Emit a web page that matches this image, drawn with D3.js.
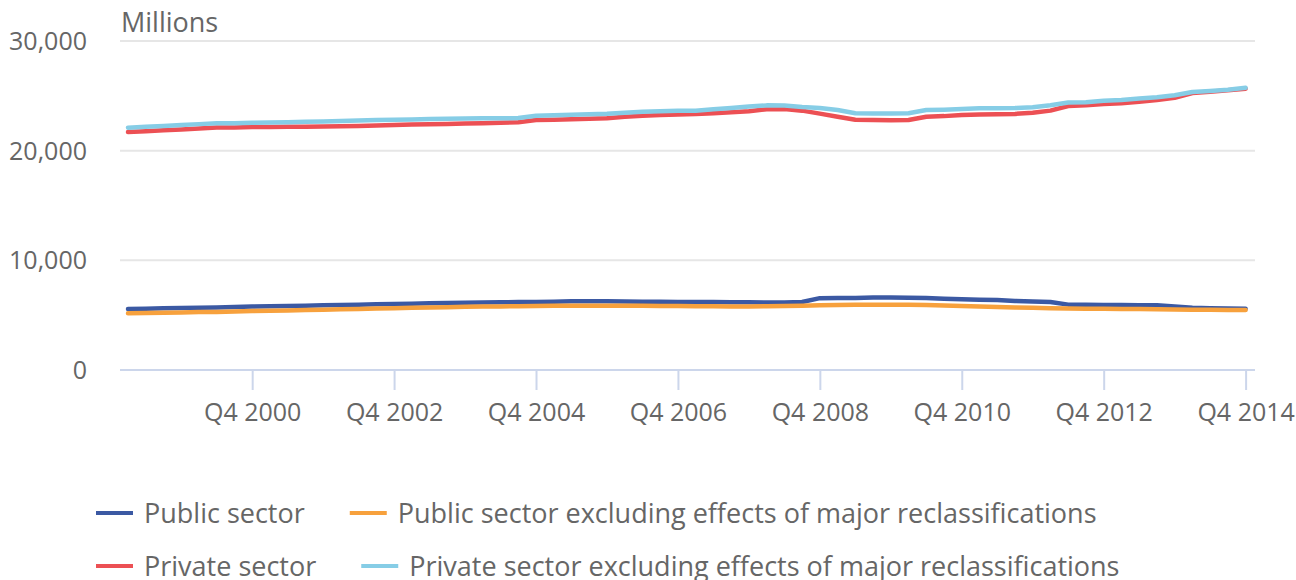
<!DOCTYPE html>
<html>
<head>
<meta charset="utf-8">
<script src="https://cdn.jsdelivr.net/npm/d3@7"></script>
<style>
  html, body { margin: 0; padding: 0; background: #fff; }
  svg { display: block; font-family: "Open Sans", sans-serif; }
</style>
</head>
<body>
<div id="chart"></div>
<script>
// quarters Q1 1999 .. Q4 2014
const quarters = [];
for (let y = 1999; y <= 2014; y++) for (let q = 1; q <= 4; q++) quarters.push("Q" + q + " " + y);

const tickLabels = ["Q4 2000", "Q4 2002", "Q4 2004", "Q4 2006", "Q4 2008", "Q4 2010", "Q4 2012", "Q4 2014"];
const yTicks = [0, 10000, 20000, 30000];

const publicSector = [
  5560, 5590, 5620, 5650, 5680, 5710, 5740, 5780, 5810, 5840, 5870, 5900, 5930, 5960, 5990, 6020,
  6050, 6080, 6110, 6130, 6150, 6170, 6190, 6210, 6230, 6260, 6270, 6260, 6240, 6230, 6220, 6210,
  6200, 6190, 6180, 6170, 6150, 6160, 6200, 6550, 6560, 6570, 6600, 6620, 6590, 6560, 6500, 6450,
  6400, 6380, 6300, 6250, 6200, 5960, 5940, 5930, 5920, 5900, 5900, 5780, 5680, 5630, 5600, 5590
];
const publicExcl = [
  5170, 5200, 5230, 5250, 5280, 5300, 5330, 5380, 5400, 5430, 5460, 5500, 5530, 5560, 5600, 5640,
  5670, 5700, 5730, 5760, 5780, 5800, 5820, 5840, 5850, 5860, 5870, 5860, 5850, 5850, 5840, 5830,
  5820, 5810, 5800, 5800, 5810, 5830, 5870, 5900, 5920, 5940, 5950, 5960, 5960, 5930, 5880, 5830,
  5780, 5750, 5700, 5670, 5640, 5600, 5590, 5580, 5570, 5560, 5540, 5520, 5500, 5490, 5480, 5470
];
const privateSector = [
  21700, 21780, 21860, 21940, 22020, 22120, 22120, 22150, 22160, 22170, 22180, 22200, 22230, 22260, 22300, 22350,
  22380, 22400, 22440, 22480, 22500, 22550, 22600, 22800, 22820, 22860, 22900, 22950, 23100, 23180, 23250, 23290,
  23340, 23420, 23500, 23600, 23780, 23800, 23650, 23380, 23100, 22820, 22800, 22780, 22800, 23100, 23150, 23250,
  23300, 23320, 23350, 23450, 23650, 24070, 24130, 24250, 24320, 24450, 24620, 24830, 25250, 25380, 25500, 25650
];
const privateExcl = [
  22100, 22180, 22260, 22340, 22420, 22490, 22500, 22550, 22570, 22600, 22630, 22660, 22700, 22740, 22800, 22830,
  22850, 22880, 22900, 22930, 22950, 22950, 22980, 23180, 23230, 23270, 23310, 23360, 23450, 23550, 23600, 23630,
  23650, 23780, 23900, 24020, 24130, 24120, 23980, 23900, 23700, 23420, 23400, 23400, 23420, 23700, 23740, 23800,
  23860, 23870, 23880, 23950, 24150, 24400, 24420, 24550, 24620, 24750, 24880, 25050, 25350, 25450, 25550, 25740
];

const seriesNames = [
  "Public sector",
  "Public sector excluding effects of major reclassifications",
  "Private sector",
  "Private sector excluding effects of major reclassifications"
];
const seriesColors = ["#3b59a3", "#f7a13d", "#ec5054", "#86cde6"];
const seriesValues = [publicSector, publicExcl, privateSector, privateExcl];

const width = 1296, height = 580;
const plotLeft = 120, plotRight = 1255;

const svg = d3.select("#chart").append("svg")
  .attr("width", width)
  .attr("height", height);

const x = d3.scalePoint().domain(quarters).range([128, 1245.6]);
const y = d3.scaleLinear().domain([0, 30000]).range([370, 41]);

// gridlines
svg.append("g")
  .selectAll("line")
  .data(yTicks.filter(d => d > 0))
  .join("line")
  .attr("x1", plotLeft).attr("x2", plotRight)
  .attr("y1", d => y(d)).attr("y2", d => y(d))
  .attr("stroke", "#e6e6e6")
  .attr("stroke-width", 2);

// y labels
svg.append("g")
  .selectAll("text")
  .data(yTicks)
  .join("text")
  .attr("x", 87)
  .attr("y", d => y(d))
  .attr("dy", "0.36em")
  .attr("text-anchor", "end")
  .attr("fill", "#666")
  .style("font-size", "25px")
  .text(d => d3.format(",")(d));

svg.append("text")
  .attr("x", 121).attr("y", 32)
  .attr("fill", "#666")
  .style("font-size", "27px")
  .text("Millions");

// x axis
const xAxis = svg.append("g")
  .attr("transform", `translate(0,${y(0)})`)
  .call(d3.axisBottom(x).tickValues(tickLabels).tickSize(20).tickPadding(13));
xAxis.select(".domain").remove();
xAxis.selectAll(".tick line").attr("stroke", "#ccd6eb").attr("stroke-width", 2);
xAxis.selectAll(".tick text")
  .attr("fill", "#666")
  .style("font-size", "25px")
  .style("font-family", "'Open Sans', sans-serif");
xAxis.append("line")
  .attr("x1", plotLeft).attr("x2", plotRight)
  .attr("stroke", "#ccd6eb").attr("stroke-width", 2);

// lines
const line = d3.line()
  .x((d, i) => x(quarters[i]))
  .y(d => y(d));

svg.append("g")
  .selectAll("path")
  .data(seriesValues)
  .join("path")
  .attr("d", line)
  .attr("fill", "none")
  .attr("stroke", (d, i) => seriesColors[i])
  .attr("stroke-width", 4.5)
  .attr("stroke-linejoin", "round")
  .attr("stroke-linecap", "round");

// legend (two rows, flowing left to right)
const legendRows = [[0, 1], [2, 3]];
const legendY = [513, 566];
legendRows.forEach((row, r) => {
  let lx = 96;
  row.forEach(i => {
    const g = svg.append("g").attr("transform", `translate(${lx},${legendY[r]})`);
    g.append("line")
      .attr("x1", 0).attr("x2", 37)
      .attr("stroke", seriesColors[i])
      .attr("stroke-width", 4);
    const t = g.append("text")
      .attr("x", 48)
      .attr("dy", "0.36em")
      .attr("fill", "#666")
      .style("font-size", "27px")
      .text(seriesNames[i]);
    lx += 48 + t.node().getComputedTextLength() + 45;
  });
});
</script>
</body>
</html>
